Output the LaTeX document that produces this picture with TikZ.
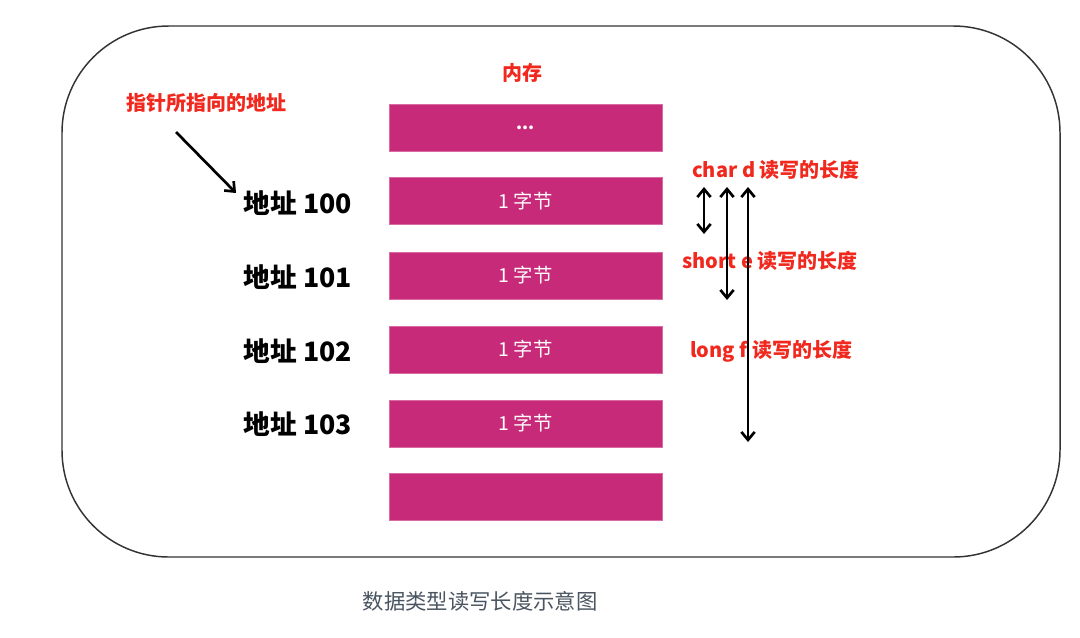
\documentclass[tikz,border=0pt]{standalone}
\usepackage{fontspec}
\setmainfont{Noto Sans CJK SC}
\usetikzlibrary{arrows.meta}
\definecolor{mem}{HTML}{C82A7A}
\definecolor{lbl}{HTML}{F0281E}
\definecolor{cap}{HTML}{4A5561}
\tikzset{
  membox/.style={fill=mem, draw=mem!70!white, line width=0.4pt, minimum width=204.75pt, minimum height=35.25pt, inner sep=0pt, text=white, font=\fontsize{14.5}{15}\selectfont},
  redlbl/.style={text=lbl, font=\bfseries\fontsize{15}{16}\selectfont, inner sep=0pt},
  addr/.style={text=black, font=\bfseries\fontsize{20}{22}\selectfont, inner sep=0pt},
  tipb/.tip={Straight Barb[length=6pt,width=10pt,line width=2pt]},
  arr/.style={line width=2pt, -tipb},
  darr/.style={line width=2pt, tipb-tipb}
}
\begin{document}
\begin{tikzpicture}[x=0.75pt,y=-0.75pt]
\useasboundingbox (0,0) rectangle (1080,637);
\fill[white] (0,0) rectangle (1080,637);
\draw[line width=1.1pt, draw=black!80, rounded corners=80pt] (62,26) rectangle (1060,557);

\node[redlbl] (mem) at (522,73) {内存};
\node[membox, font=\bfseries\fontsize{13}{14}\selectfont] (b0) at (525.5,127.5) {\raisebox{-2.5pt}{...}};
\node[membox] (b1) at (525.5,201) {1 字节};
\node[membox] (b2) at (525.5,275.5) {1 字节};
\node[membox] (b3) at (525.5,349.5) {1 字节};
\node[membox] (b4) at (525.5,423.5) {1 字节};
\node[membox] (b5) at (525.5,496.5) {};

\node[redlbl] (ptr) at (206,103) {指针所指向的地址};
\node[addr] (a0) at (298,203) {地址 100};
\node[addr] (a1) at (298,277) {地址 101};
\node[addr] (a2) at (298,351) {地址 102};
\node[addr] (a3) at (298,424) {地址 103};

\coordinate (ps) at (176,132);
\coordinate (pe) at (236,193);
\draw[arr] (ps) -- (pe);

\node[redlbl] (lc) at (776,170) {char d 读写的长度};
\node[redlbl] (ls) at (770,261) {short e 读写的长度};
\node[redlbl] (ll) at (771,351) {long f 读写的长度};

\coordinate (c1) at (704,187); \coordinate (c2) at (704,234);
\coordinate (s1) at (727,187); \coordinate (s2) at (727,300);
\coordinate (g1) at (748,187); \coordinate (g2) at (748,442);
\draw[darr] (c1) -- (c2);
\draw[darr] (s1) -- (s2);
\draw[darr] (g1) -- (g2);

\node[text=cap, font=\fontsize{16}{18}\selectfont, inner sep=0pt] (capt) at (480,601) {数据类型读写长度示意图};
\end{tikzpicture}
\end{document}
